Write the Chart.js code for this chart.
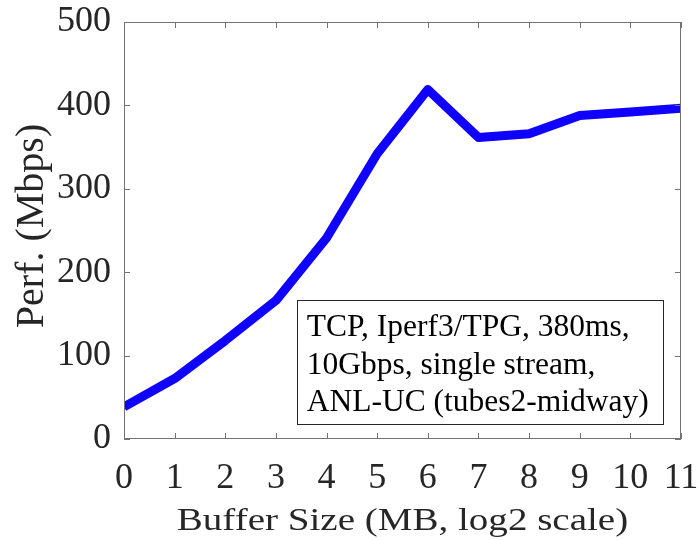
<!DOCTYPE html>
<html>
<head>
<meta charset="utf-8">
<script src="https://cdn.jsdelivr.net/npm/chart.js@4.4.1/dist/chart.umd.min.js"></script>
<style>
  html, body { margin: 0; padding: 0; background: #fff; }
  #wrap { width: 698px; height: 540px; }
</style>
</head>
<body>
<div id="wrap"><canvas id="perf-chart" width="698" height="540"></canvas></div>
<script>
// donnees
const bufferLog2 = [0, 1, 2, 3, 4, 5, 6, 7, 8, 9, 10, 11];
const perfMbps = [38.5, 72.5, 118, 166, 241, 342, 419, 361.5, 366, 388, 392, 396.5];
const xTicks = [0, 1, 2, 3, 4, 5, 6, 7, 8, 9, 10, 11];
const yTicks = [0, 100, 200, 300, 400, 500];
const xTitle = "Buffer Size (MB, log2 scale)";
const yTitle = "Perf. (Mbps)";
const noteLines = [
  "TCP, Iperf3/TPG, 380ms,",
  "10Gbps, single stream,",
  "ANL-UC (tubes2-midway)",
];

const serif = "'Liberation Serif', 'Times New Roman', serif";
const textColor = "#262626";
const axisColor = "#737373";

// cadre + graduations vers l'interieur (style matlab)
const boxPlugin = {
  id: "boxTicks",
  afterDraw(chart) {
    const { ctx, chartArea: a, scales } = chart;
    const len = 6;
    ctx.save();
    ctx.strokeStyle = axisColor;
    ctx.lineWidth = 1;
    ctx.strokeRect(a.left + 0.5, a.top + 0.5, a.right - a.left - 1, a.bottom - a.top - 1);
    ctx.beginPath();
    xTicks.forEach((v) => {
      const px = Math.round(scales.x.getPixelForValue(v)) + 0.5;
      ctx.moveTo(px, a.bottom);
      ctx.lineTo(px, a.bottom - len);
      ctx.moveTo(px, a.top);
      ctx.lineTo(px, a.top + len);
    });
    yTicks.forEach((v) => {
      const py = Math.round(scales.y.getPixelForValue(v)) + 0.5;
      ctx.moveTo(a.left, py);
      ctx.lineTo(a.left + len, py);
      ctx.moveTo(a.right, py);
      ctx.lineTo(a.right - len, py);
    });
    ctx.stroke();

    // titres des axes
    ctx.fillStyle = textColor;
    ctx.textAlign = "center";
    ctx.textBaseline = "alphabetic";
    ctx.font = "32px " + serif;
    ctx.save();
    ctx.translate((a.left + a.right) / 2, 529.5);
    ctx.scale(1.22, 1); // un peu etire en largeur comme sur l'original
    ctx.fillText(xTitle, 0, 0);
    ctx.restore();

    ctx.font = "40px " + serif;
    ctx.save();
    ctx.translate(43, 226);
    ctx.rotate(-Math.PI / 2);
    ctx.fillText(yTitle, 0, 0);
    ctx.restore();
    ctx.restore();
  },
};

// encadre de texte
const notePlugin = {
  id: "noteBox",
  afterDraw(chart) {
    const { ctx, scales } = chart;
    const x0 = scales.x.getPixelForValue(3.41);
    const x1 = scales.x.getPixelForValue(10.64);
    const y0 = scales.y.getPixelForValue(166.7);
    const y1 = scales.y.getPixelForValue(18);
    ctx.save();
    ctx.fillStyle = "#fff";
    ctx.fillRect(x0, y0, x1 - x0, y1 - y0);
    ctx.strokeStyle = "#262626";
    ctx.lineWidth = 1;
    ctx.strokeRect(Math.round(x0) + 0.5, Math.round(y0) + 0.5, Math.round(x1 - x0), Math.round(y1 - y0));
    ctx.fillStyle = "#000";
    ctx.font = "31.5px " + serif;
    ctx.textBaseline = "alphabetic";
    noteLines.forEach((t, i) => {
      ctx.fillText(t, x0 + 10, y0 + 36.5 + i * 37.5);
    });
    ctx.restore();
  },
};

new Chart("perf-chart", {
  type: "line",
  data: {
    datasets: [
      {
        data: bufferLog2.map((x, i) => ({ x: x, y: perfMbps[i] })),
        borderColor: "#0f00ff",
        borderWidth: 9,
        borderJoinStyle: "round",
        pointRadius: 0,
        fill: false,
        tension: 0,
      },
    ],
  },
  options: {
    responsive: false,
    animation: false,
    layout: { padding: { top: 22, right: 17, left: 0, bottom: 0 } },
    plugins: {
      legend: { display: false },
      tooltip: { enabled: false },
    },
    scales: {
      x: {
        type: "linear",
        min: 0,
        max: 11,
        afterBuildTicks: (s) => { s.ticks = xTicks.map((v) => ({ value: v })); },
        afterFit: (s) => {
          s.height = 101;
          s.paddingLeft = 0;
          s.paddingRight = 0;
        },
        grid: { display: false },
        border: { display: false },
        ticks: {
          color: textColor,
          font: { family: serif, size: 36 },
          padding: 10,
          maxRotation: 0,
          autoSkip: false,
        },
      },
      y: {
        min: 0,
        max: 500,
        afterBuildTicks: (s) => { s.ticks = yTicks.map((v) => ({ value: v })); },
        afterFit: (s) => {
          s.width = 124;
          s.paddingTop = 0;
          s.paddingBottom = 0;
        },
        grid: { display: false },
        border: { display: false },
        ticks: {
          color: textColor,
          font: { family: serif, size: 36 },
          padding: 5,
        },
      },
    },
  },
  plugins: [boxPlugin, notePlugin],
});
</script>
</body>
</html>
